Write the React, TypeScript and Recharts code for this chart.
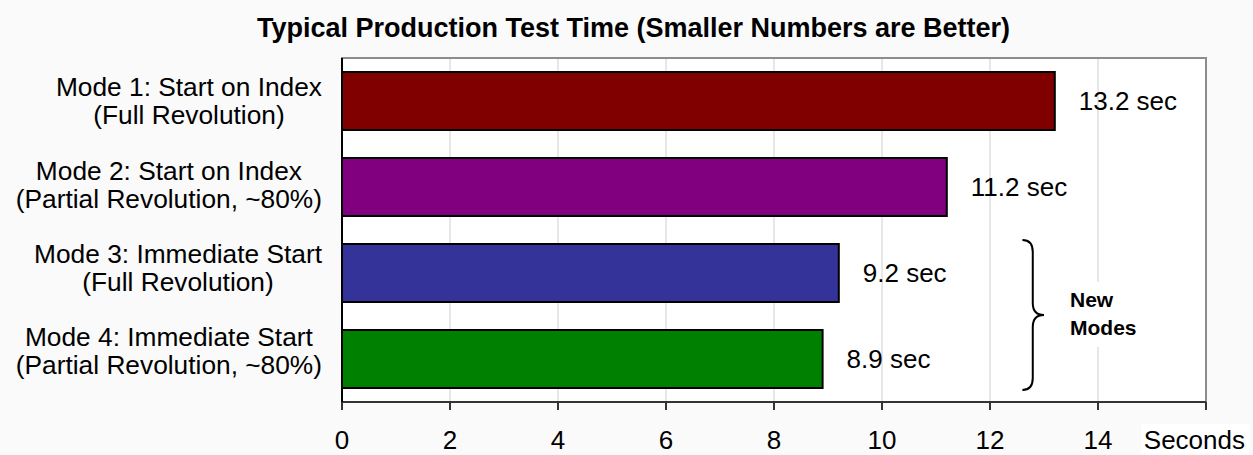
import React from 'react';
import {
    BarChart,
    Bar,
    XAxis,
    YAxis,
    CartesianGrid,
    Cell,
    LabelList,
    ReferenceArea
} from 'recharts';

const modes = [
    'Mode 1: Start on Index\n(Full Revolution)',
    'Mode 2: Start on Index\n(Partial Revolution, ~80%)',
    'Mode 3: Immediate Start\n(Full Revolution)',
    'Mode 4: Immediate Start\n(Partial Revolution, ~80%)',
];
const testSeconds = [13.2, 11.2, 9.2, 8.9];
const barColors = ['#800000', '#800080', '#333399', '#008000'];
const secondTicks = [0, 2, 4, 6, 8, 10, 12, 14, 16];
const newModesFrom = modes[2];
const newModesTo = modes[3];

const data = modes.map((name, i) => ({ name, seconds: testSeconds[i] }));

const FONT = "'Liberation Sans', Arial, Helvetica, sans-serif";
const LABEL_SIZE = 26.3;

const measureCtx = typeof document !== 'undefined'
    ? document.createElement('canvas').getContext('2d')
    : null;

const textWidth = (s: string, size: number): number => {
    if (!measureCtx) return s.length * size * 0.5;
    measureCtx.font = `${size}px 'Liberation Sans'`;
    return measureCtx.measureText(s).width;
};

// multi-line category label, lines centred on each other, block right-aligned
const ModeTick: React.FC<any> = ({ x, y, payload, index }) => {
    const lines = String(payload.value).split('\n');
    const w = Math.max(...lines.map(l => textWidth(l, LABEL_SIZE)));
    const cx = x - w / 2;
    const cy = y - (index || 0) * 2.7; // labels sit a touch tighter than the bands
    return (
        <g>
            {lines.map((l, i) => (
                <text
                    key={i}
                    x={cx}
                    y={cy + (i - (lines.length - 1) / 2) * 28}
                    dy="0.35em"
                    textAnchor="middle"
                    fontSize={LABEL_SIZE}
                    fontFamily={FONT}
                    fill="#000"
                >
                    {l}
                </text>
            ))}
        </g>
    );
};

const SecondsTick: React.FC<any> = ({ x, y, payload }) => {
    if (payload.value === 16) {
        return (
            <g>
                <rect x={x - 65} y={y + 12} width={108} height={34} fill="#fff" />
                <text x={x + 39} y={y + 28} dy="0.35em" textAnchor="end" fontSize={26} fontFamily={FONT} fill="#000">
                    Seconds
                </text>
            </g>
        );
    }
    return (
        <text x={x} y={y + 28} dy="0.35em" textAnchor="middle" fontSize={26} fontFamily={FONT} fill="#000">
            {payload.value}
        </text>
    );
};

const Bracket: React.FC<any> = ({ x, y, width, height }) => {
    const top = y + 10;
    const bottom = y + height - 12;
    const mid = (top + bottom) / 2;
    const stem = x + width * 0.48;
    const tip = x + width;
    const r = 12;
    const d = `M${x},${top} Q${stem},${top} ${stem},${top + r} L${stem},${mid - r} ` +
        `Q${stem},${mid} ${tip},${mid} Q${stem},${mid} ${stem},${mid + r} ` +
        `L${stem},${bottom - r} Q${stem},${bottom} ${x},${bottom}`;
    const tx = tip + 26;
    return (
        <g>
            <path d={d} fill="none" stroke="#000" strokeWidth={2} />
            <rect x={tx - 5} y={mid - 33} width={76} height={65} fill="#fff" />
            <text x={tx} y={mid - 15} dy="0.35em" fontSize={21} fontWeight="bold" fontFamily={FONT} fill="#000">New</text>
            <text x={tx} y={mid + 13} dy="0.35em" fontSize={21} fontWeight="bold" fontFamily={FONT} fill="#000">Modes</text>
        </g>
    );
};

export default function App() {
    return (
        <div style={{ position: 'absolute', left: 0, top: 0, width: 1253, height: 455, background: '#fafafa', fontFamily: FONT }}>
            <div style={{
                position: 'absolute', top: 13, left: 7, width: 1253, textAlign: 'center',
                fontSize: 27, lineHeight: '30px', fontWeight: 'bold', color: '#000'
            }}>
                Typical Production Test Time (Smaller Numbers are Better)
            </div>
            <BarChart
                width={1253}
                height={455}
                data={data}
                layout="vertical"
                margin={{ top: 58, right: 47, bottom: 0, left: 0 }}
                style={{ position: 'absolute', left: 0, top: 0 }}
            >
                <CartesianGrid horizontal={false} stroke="#cfcfcf" fill="#fff" />
                <ReferenceArea x1={0} x2={16} fill="none" stroke="#8c8c8c" strokeWidth={2} ifOverflow="visible" />
                <XAxis
                    type="number"
                    domain={[0, 16]}
                    ticks={secondTicks}
                    interval={0}
                    height={53}
                    tickSize={8}
                    tickMargin={2}
                    tick={<SecondsTick />}
                    axisLine={{ stroke: '#333', strokeWidth: 2 }}
                    tickLine={{ stroke: '#333', strokeWidth: 2 }}
                />
                <YAxis
                    type="category"
                    dataKey="name"
                    width={342}
                    tickSize={0}
                    tickMargin={20}
                    tickLine={false}
                    tick={<ModeTick />}
                    interval={0}
                    axisLine={{ stroke: '#000', strokeWidth: 2 }}
                />
                <Bar dataKey="seconds" barSize={58} stroke="#000" strokeWidth={2} isAnimationActive={false}>
                    {data.map((d, i) => (
                        <Cell key={d.name} fill={barColors[i]} />
                    ))}
                    <LabelList
                        dataKey="seconds"
                        position="right"
                        offset={24}
                        formatter={(v: any) => `${v} sec`}
                        fontSize={26}
                        fontFamily={FONT}
                        fill="#000"
                    />
                </Bar>
                <ReferenceArea
                    x1={12.6}
                    x2={13.0}
                    y1={newModesFrom}
                    y2={newModesTo}
                    ifOverflow="visible"
                    shape={(p: any) => <Bracket {...p} />}
                />
            </BarChart>
        </div>
    );
}
